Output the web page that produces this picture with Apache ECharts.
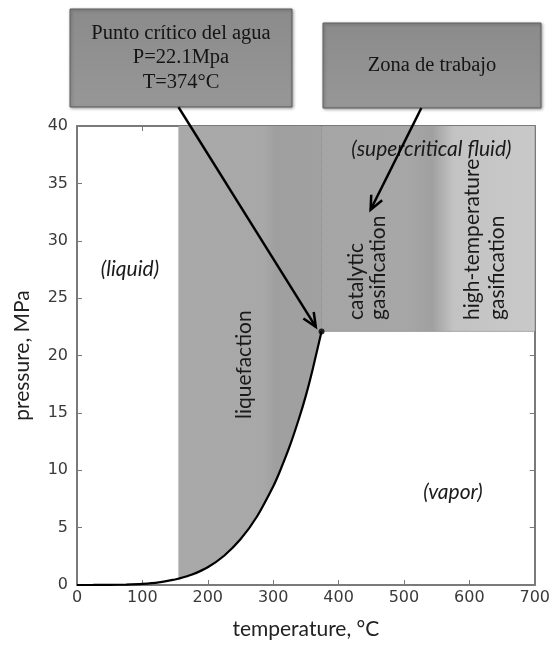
<!DOCTYPE html>
<html><head><meta charset="utf-8">
<script src="https://cdn.jsdelivr.net/npm/echarts/dist/echarts.min.js"></script>
<style>html,body{margin:0;padding:0;background:#fff}#c{width:553px;height:645px}</style>
</head><body><div id="c"></div><script>
// ---- data ----
const xTicks = [0, 100, 200, 300, 400, 500, 600, 700];
const yTicks = [0, 5, 10, 15, 20, 25, 30, 35, 40];
// saturation (liquid–vapor) curve of water, °C vs MPa
const curveT = [0, 25, 50, 75, 100, 125, 150, 155, 175, 200, 225, 250, 275, 300, 310, 325, 340, 350, 360, 374];
const curveP = [0.0006, 0.003, 0.012, 0.039, 0.10, 0.23, 0.48, 0.54, 0.89, 1.55, 2.55, 3.98, 5.95, 8.59, 9.87, 12.05, 14.6, 16.5, 18.7, 22.1];
const criticalPoint = [374, 22.1];
const liquefactionStart = 155;
const pressureTop = 40;
const temperatureEnd = 700;
const regionLabels = ['(liquid)', '(vapor)', '(supercritical fluid)', 'liquefaction', 'catalytic\ngasification', 'high-temperature\ngasification'];
const annotationTexts = ['Punto crítico del agua\nP=22.1Mpa\nT=374°C', 'Zona de trabajo'];

const chart = echarts.init(document.getElementById('c'));
const curveData = curveT.map((t, i) => [t, curveP[i]]);
const frame = '#7a7a7a';
const tickFont = 'DejaVu Sans';
const labFont = 'Lato';

function axisX(pos, showLabel, name) {
  return {
    type: 'value', min: 0, max: 700, interval: 100, position: pos,
    axisLine: { show: true, onZero: false, lineStyle: { color: frame, width: 2 } },
    axisTick: { show: true, inside: true, length: 5, lineStyle: { color: frame, width: 1 } },
    axisLabel: { show: showLabel, color: '#3a3a3a', fontSize: 16, fontFamily: tickFont, margin: 5 },
    splitLine: { show: false },
    name: name || '', nameLocation: 'middle', nameGap: 34,
    nameTextStyle: { fontSize: 21, fontFamily: labFont, color: '#222' }
  };
}
function axisY(pos, showLabel, name) {
  return {
    type: 'value', min: 0, max: 40, interval: 5, position: pos,
    axisLine: { show: true, onZero: false, lineStyle: { color: frame, width: 2 } },
    axisTick: { show: true, inside: true, length: 5, lineStyle: { color: frame, width: 1 } },
    axisLabel: { show: showLabel, color: '#3a3a3a', fontSize: 16, fontFamily: tickFont, margin: 9 },
    splitLine: { show: false },
    name: name || '', nameLocation: 'middle', nameGap: 44,
    nameTextStyle: { fontSize: 21, fontFamily: labFont, color: '#222' }
  };
}

const regionSeries = {
  type: 'custom', coordinateSystem: 'cartesian2d', xAxisIndex: 0, yAxisIndex: 0, z: 1,
  silent: true, data: [[0]],
  renderItem: function (params, api) {
    const pts = [];
    curveData.forEach(d => { if (d[0] >= liquefactionStart) pts.push(api.coord(d)); });
    pts.push(api.coord([criticalPoint[0], pressureTop]));
    pts.push(api.coord([liquefactionStart, pressureTop]));
    const rect = [api.coord([criticalPoint[0], criticalPoint[1]]), api.coord([temperatureEnd, pressureTop])];
    return {
      type: 'group', children: [
        { type: 'polygon', shape: { points: pts },
          style: { fill: new echarts.graphic.LinearGradient(0, 0, 1, 0, [
            { offset: 0, color: '#a9a9a9' }, { offset: 0.6, color: '#a8a8a8' },
            { offset: 0.68, color: '#9f9f9f' }, { offset: 1, color: '#a1a1a1' }]) } },
        { type: 'rect', shape: { x: rect[0][0], y: rect[1][1], width: rect[1][0] - rect[0][0], height: rect[0][1] - rect[1][1] },
          style: { fill: new echarts.graphic.LinearGradient(0, 0, 1, 0, [
            { offset: 0, color: '#a5a5a5' }, { offset: 0.39, color: '#a7a7a7' },
            { offset: 0.52, color: '#a0a0a0' }, { offset: 0.62, color: '#c3c3c3' }, { offset: 1, color: '#c9c9c9' }]) } }
      ]
    };
  }
};

chart.setOption({
  animation: false,
  backgroundColor: '#fff',
  grid: { left: 77, right: 16, top: 126, bottom: 59 },
  xAxis: [axisX('bottom', true, 'temperature, °C'), axisX('top', false)],
  yAxis: [axisY('left', true, 'pressure, MPa'), axisY('right', false)],
  series: [
    regionSeries,
    { type: 'line', xAxisIndex: 0, yAxisIndex: 0, z: 3, data: [[criticalPoint[0], criticalPoint[1]], [criticalPoint[0], pressureTop]],
      symbol: 'none', lineStyle: { color: '#777', width: 1, type: 'dotted' }, silent: true },
    { type: 'line', xAxisIndex: 0, yAxisIndex: 0, z: 3, data: [[criticalPoint[0], criticalPoint[1]], [temperatureEnd, criticalPoint[1]]],
      symbol: 'none', lineStyle: { color: '#777', width: 1, type: 'dotted' }, silent: true },
    { type: 'line', xAxisIndex: 0, yAxisIndex: 0, z: 4, data: curveData, symbol: 'none', smooth: 0.2,
      lineStyle: { color: '#000', width: 2.2 }, silent: true },
    { type: 'scatter', xAxisIndex: 0, yAxisIndex: 0, z: 5, data: [criticalPoint], symbolSize: 6,
      itemStyle: { color: '#000' }, silent: true }
  ]
});

function px(p) { return chart.convertToPixel({ xAxisIndex: 0, yAxisIndex: 0 }, p); }
function arrow(from, to) {
  const a = px(from), b = px(to);
  const ang = Math.atan2(b[1] - a[1], b[0] - a[0]);
  const L = 15, s = 0.42;
  const h1 = [b[0] - L * Math.cos(ang - s), b[1] - L * Math.sin(ang - s)];
  const h2 = [b[0] - L * Math.cos(ang + s), b[1] - L * Math.sin(ang + s)];
  const st = { stroke: '#000', lineWidth: 2.5, fill: null };
  return [
    { type: 'line', shape: { x1: a[0], y1: a[1], x2: b[0], y2: b[1] }, style: st, z: 20 },
    { type: 'polyline', shape: { points: [h1, b, h2] }, style: st, z: 20 }
  ];
}
function label(text, p, opts) {
  const c = px(p);
  return Object.assign({ type: 'text', x: c[0], y: c[1], z: 15,
    style: Object.assign({ text: text, font: '21px Lato', fill: '#1a1a1a', align: 'center', verticalAlign: 'middle' }, opts.style || {}) },
    opts.rotate ? { rotation: Math.PI / 2 } : {});
}
function box(x, y, w, h, text, lh) {
  return [
    { type: 'rect', shape: { x: x, y: y, width: w, height: h }, z: 18,
      style: { fill: new echarts.graphic.LinearGradient(0, 0, 0, 1, [{ offset: 0, color: '#8b8b8b' }, { offset: 1, color: '#979797' }]),
        stroke: '#5e5e5e', lineWidth: 1, shadowColor: 'rgba(0,0,0,0.35)', shadowBlur: 3, shadowOffsetX: 1, shadowOffsetY: 1 } },
    { type: 'text', x: x + w / 2, y: y + h / 2, z: 19,
      style: { text: text, font: '20.5px "Liberation Serif"', fill: '#141414', align: 'center', verticalAlign: 'middle', lineHeight: lh } }
  ];
}

const g = [];
g.push(label(regionLabels[0], [81, 27.5], { style: { font: 'italic 21px Lato' } }));
g.push(label(regionLabels[1], [575, 8.1], { style: { font: 'italic 21px Lato' } }));
g.push(label(regionLabels[2], [542, 38.0], { style: { font: 'italic 21px Lato' } }));
g.push(label(regionLabels[3], [256, 19.2], { rotate: true }));
g.push(label(regionLabels[4], [444, 23.1], { rotate: true, style: { align: 'left', lineHeight: 22 } }));
g.push(label(regionLabels[5], [624, 23.1], { rotate: true, style: { align: 'left', lineHeight: 25 } }));
box(70, 9, 222, 98, annotationTexts[0], 24.5).forEach(e => g.push(e));
box(323, 23, 218, 85, annotationTexts[1], 24).forEach(e => g.push(e));
arrow([155.2, 41.65], [365.2, 22.5]).forEach(e => g.push(e));
arrow([526.6, 41.57], [449, 32.7]).forEach(e => g.push(e));
chart.setOption({ graphic: { elements: g } });
</script></body></html>
